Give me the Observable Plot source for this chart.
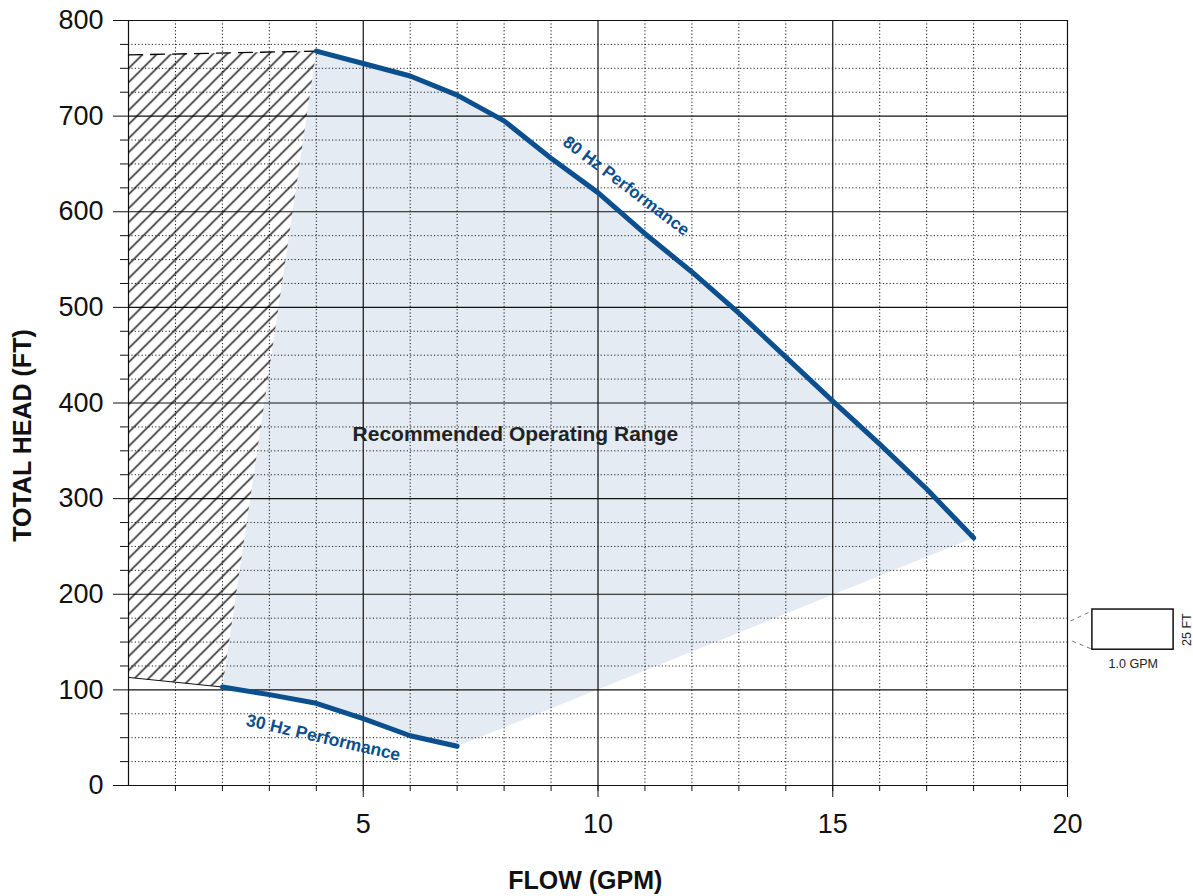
<!DOCTYPE html>
<html><head><meta charset="utf-8">
<script src="https://cdn.jsdelivr.net/npm/d3@7"></script>
<script src="https://cdn.jsdelivr.net/npm/@observablehq/plot@0.6"></script>
<style>body{margin:0;background:#fff;} #chart svg{display:block}</style>
</head><body><div id="chart"></div>
<script>
// ---- data ----
const hz80Flow = [4, 5, 6, 7, 8, 9, 10, 11, 12, 13, 14, 15, 16, 17, 18];
const hz80Head = [768, 755, 742, 722, 695, 656, 620, 577, 537, 494, 448, 402, 357, 310, 259];
const hz30Flow = [2, 3, 4, 5, 6, 7];
const hz30Head = [103, 95, 86, 70, 52, 41];
const hatchFlow = [0, 0, 4, 2];
const hatchHead = [113, 764, 768, 103];
const xMajorTicks = [5, 10, 15, 20];
const xMinorTicks = [1,2,3,4,5,6,7,8,9,10,11,12,13,14,15,16,17,18,19,20];
const yMajorTicks = [0, 100, 200, 300, 400, 500, 600, 700, 800];
const yMinorTicks = [25,50,75,125,150,175,225,250,275,325,350,375,425,450,475,525,550,575,625,650,675,725,750,775];
const xGridSolid = [0, 5, 10, 15, 20];
const xGridDotted = [1,2,3,4,6,7,8,9,11,12,13,14,16,17,18,19];
const yGridSolid = [0, 100, 200, 300, 400, 500, 600, 700, 800];
const yGridDotted = yMinorTicks;
const labels = {x: "FLOW (GPM)", y: "TOTAL HEAD (FT)", range: "Recommended Operating Range", hz80: "80 Hz Performance", hz30: "30 Hz Performance", scaleX: "1.0 GPM", scaleY: "25 FT"};

const hz80 = hz80Flow.map((f, i) => ({flow: f, head: hz80Head[i]}));
const hz30 = hz30Flow.map((f, i) => ({flow: f, head: hz30Head[i]}));
const region = hz80.concat(hz30.slice().reverse());
const hatch = hatchFlow.map((f, i) => ({flow: f, head: hatchHead[i]}));
const hatchTop = hatch.slice(1, 3);
const hatchBottom = [hatch[0], hatch[3]];

// magnified 1 GPM x 25 FT legend cell (outside the frame, right)
const cellBox = [{x1: 20.53, x2: 22.26, y1: 142, y2: 184}];
const cellLinks = [{x1: 20.06, y1: 172, x2: 20.5, y2: 182}, {x1: 20.1, y1: 151, x2: 20.5, y2: 143}];

const BLUE = "#0b4f8e";
const FONT = "'Liberation Sans', Arial, Helvetica, sans-serif";

const plot = Plot.plot({
  width: 1193, height: 896,
  marginLeft: 128, marginRight: 126, marginTop: 20, marginBottom: 111,
  x: {domain: [0, 20]},
  y: {domain: [0, 800]},
  style: {fontFamily: FONT, fontSize: "12px", color: "#111", background: "#fff"},
  marks: [
    Plot.line(region, {x: "flow", y: "head", fill: "#e4ebf2", stroke: "none"}),
    Plot.ruleX(xGridDotted, {stroke: "#111", strokeWidth: 1, strokeDasharray: "1.2,2.2"}),
    Plot.ruleY(yGridDotted, {stroke: "#222", strokeWidth: 1, strokeDasharray: "1.2,2.2"}),
    Plot.ruleX(xGridSolid, {stroke: "#111", strokeWidth: 1.2}),
    Plot.ruleY(yGridSolid, {stroke: "#111", strokeWidth: 1.2}),
    Plot.line(hatch, {x: "flow", y: "head", fill: "url(#hatch)", stroke: "none"}),
    Plot.line(hatchTop, {x: "flow", y: "head", stroke: "#000", strokeWidth: 1.3, strokeDasharray: "14,8"}),
    Plot.line(hatchBottom, {x: "flow", y: "head", stroke: "#111", strokeWidth: 1}),
    Plot.line(hz80, {x: "flow", y: "head", stroke: BLUE, strokeWidth: 5, strokeLinecap: "round", strokeLinejoin: "round"}),
    Plot.line(hz30, {x: "flow", y: "head", stroke: BLUE, strokeWidth: 5, strokeLinecap: "round", strokeLinejoin: "round"}),
    Plot.text([labels.hz80], {x: () => 10.6, y: () => 627, text: d => d, rotate: 37, fill: BLUE, fontWeight: "bold", fontSize: 17}),
    Plot.text([labels.hz30], {x: () => 4.15, y: () => 50, text: d => d, rotate: 13, fill: BLUE, fontWeight: "bold", fontSize: 17.5}),
    Plot.text([labels.range], {x: () => 8.24, y: () => 367, text: d => d, fill: "#222", fontWeight: "bold", fontSize: 21}),
    Plot.axisY(yMajorTicks, {tickSize: 15, tickPadding: 10, fontSize: 27, label: null}),
    Plot.axisY(yMinorTicks, {tickSize: 8, tickFormat: () => "", label: null}),
    Plot.axisX(xMajorTicks, {tickSize: 12, tickPadding: 16, fontSize: 27, label: null}),
    Plot.axisX(xMinorTicks, {tickSize: 6, tickFormat: () => "", label: null}),
    Plot.text([labels.x], {x: () => 9.73, frameAnchor: "bottom", dy: 95, text: d => d, textAnchor: "middle", lineAnchor: "middle", fontWeight: "bold", fontSize: 25, fill: "#111"}),
    Plot.text([labels.y], {y: () => 366, frameAnchor: "left", dx: -106, rotate: -90, text: d => d, textAnchor: "middle", lineAnchor: "middle", fontWeight: "bold", fontSize: 25, fill: "#111"}),
    Plot.rect(cellBox, {x1: "x1", x2: "x2", y1: "y1", y2: "y2", fill: "white", stroke: "#111", strokeWidth: 1.5}),
    Plot.link(cellLinks, {x1: "x1", y1: "y1", x2: "x2", y2: "y2", stroke: "#777", strokeWidth: 1, strokeDasharray: "4,4"}),
    Plot.text([labels.scaleX], {x: () => 21.4, y: () => 127, text: d => d, fontSize: 12.5, fill: "#222"}),
    Plot.text([labels.scaleY], {x: () => 22.55, y: () => 163, rotate: -90, text: d => d, fontSize: 12.5, fill: "#222"})
  ]
});

d3.select(plot).insert("defs", ":first-child").html(
  '<pattern id="hatch" patternUnits="userSpaceOnUse" width="14" height="14">' +
  '<path d="M-1,1 L1,-1 M0,14 L14,0 M13,15 L15,13" stroke="#000" stroke-width="1.3" fill="none"/></pattern>'
);
document.getElementById("chart").appendChild(plot);
</script>
</body></html>
